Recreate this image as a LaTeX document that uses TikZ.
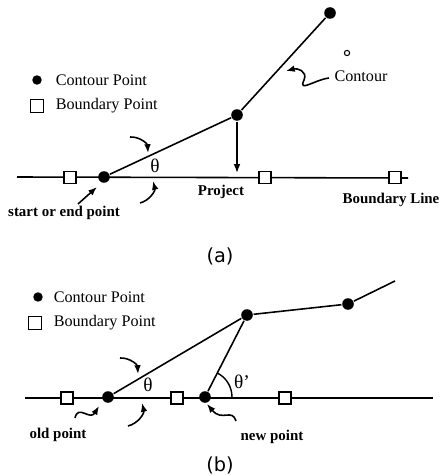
\documentclass[tikz,border=0pt]{standalone}
\usepackage{fontspec}
\setmainfont{Liberation Serif}
\newfontfamily\capfont{DejaVu Sans}
\usetikzlibrary{arrows.meta,calc}

\begin{document}
\begin{tikzpicture}[x=0.02cm,y=-0.02cm,>={Latex[length=5pt,width=3.8pt]},line width=0.9pt,
  cpt/.style={circle,fill,inner sep=0pt,minimum size=6.6pt},
  bpt/.style={rectangle,draw,fill=white,line width=0.7pt,inner sep=0pt,minimum size=6.8pt},
  lbl/.style={font=\fontsize{8.5}{10}\selectfont\bfseries,inner sep=0pt},
  key/.style={font=\fontsize{9.2}{11}\selectfont,inner sep=0pt},
  ang/.style={font=\fontsize{11}{13}\selectfont,inner sep=0pt},
  captext/.style={font=\capfont\fontsize{11}{13}\selectfont,inner sep=0pt}]
  \useasboundingbox (0,0) rectangle (440,476);
  % (a) projecting a contour point onto the boundary
  \coordinate (lineAl) at (17,177);
  \coordinate (lineAr) at (408,178);
  \draw (lineAl) -- (lineAr);
  \foreach \x/\name in {70/bA1,265/bA2,395/bA3}
    \node[bpt] (\name) at (\x,177.5) {};
  \node[cpt] (startA) at (104,177) {};
  \node[cpt] (kneeA) at (237,115) {};
  \node[cpt] (topA) at (330,13) {};
  \draw (startA) -- (kneeA) -- (topA);
  \coordinate (projA) at (237,173);
  \draw[->] (kneeA) -- (projA);
  \node[circle,draw,line width=0.6pt,inner sep=0pt,minimum size=3pt] (speck) at (347,53) {};

  \node[cpt,minimum size=5.4pt] (dotA) at (37,80) {};
  \node[key,anchor=west] (keyCA) at (55,80) {Contour Point};
  \node[bpt,minimum size=7pt] (sqA) at (37,106) {};
  \node[key,anchor=west] (keyBA) at (55,106) {Boundary Point};

  \node[ang] (thetaA) at (155,166) {θ};
  \node[lbl] (project) at (221,192) {Project};
  \node[lbl] (bline) at (391,200) {Boundary Line};
  \node[lbl] (startlbl) at (64,213) {start or end point};
  \node[key] (contour) at (361,76) {Contour};

  \coordinate (upT) at (130,137); \coordinate (upH) at (148,153);
  \draw[->] (upT) to[bend left=45] (upH);
  \coordinate (loT) at (140,203); \coordinate (loH) at (153,181);
  \draw[->] (loT) to[bend right=45] (loH);
  \coordinate (stT) at (78,204); \coordinate (stH) at (97,187);
  \draw[->] (stT) -- (stH);
  \coordinate (cT) at (329,78); \coordinate (cH) at (286,71);
  \draw[->] (cT) .. controls (314,80) and (298,93) .. (304,80) .. controls (308,71) and (297,68) .. (cH);

  \node[captext] (capA) at (220,256) {(a)};

  % (b) moving the point along the boundary
  \coordinate (lineBl) at (25,398);
  \coordinate (lineBr) at (433,398);
  \draw (lineBl) -- (lineBr);
  \foreach \x/\name in {67/bB1,177/bB2,285/bB3}
    \node[bpt] (\name) at (\x,398) {};
  \node[cpt] (oldB) at (108,397) {};
  \node[cpt] (newB) at (205,397) {};
  \node[cpt] (kneeB) at (247,315) {};
  \node[cpt] (farB) at (348,304) {};
  \coordinate (endB) at (395,281);
  \draw (oldB) -- (kneeB) -- (farB) -- (endB);
  \draw (newB) -- (kneeB);
  \draw[line width=0.8pt] ($(newB)+(27,0)$) arc[start angle=0,end angle=63,radius=0.54cm];

  \node[cpt,minimum size=5.4pt] (dotB) at (38,297) {};
  \node[key,anchor=west] (keyCB) at (53,297) {Contour Point};
  \node[bpt,minimum size=7pt] (sqB) at (35,323) {};
  \node[key,anchor=west] (keyBB) at (53,323) {Boundary Point};

  \node[ang] (thetaB) at (148,385) {θ};
  \node[ang] (thetaP) at (242,382) {θ'};
  \node[lbl] (oldlbl) at (58,435) {old point};
  \node[lbl] (newlbl) at (272,437) {new point};

  \coordinate (upBT) at (120,358); \coordinate (upBH) at (138,374);
  \draw[->] (upBT) to[bend left=45] (upBH);
  \coordinate (loBT) at (128,426); \coordinate (loBH) at (142,403);
  \draw[->] (loBT) to[bend right=45] (loBH);
  \coordinate (oT) at (75,418); \coordinate (oH) at (99,406);
  \draw[->] (oT) .. controls (78,404) and (90,421) .. (oH);
  \coordinate (nT) at (236,421); \coordinate (nH) at (207,404);
  \draw[->] (nT) .. controls (232,408) and (222,422) .. (nH);

  \node[captext] (capB) at (220,465) {(b)};
\end{tikzpicture}
\end{document}
